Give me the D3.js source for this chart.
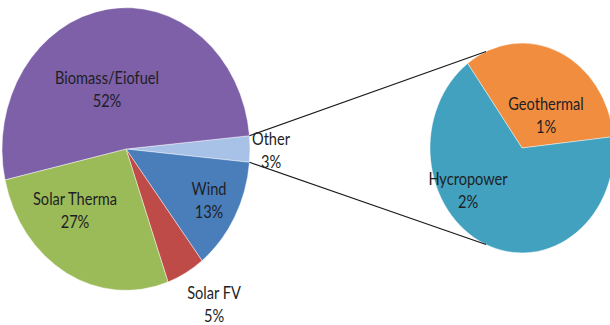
<!DOCTYPE html>
<html>
<head>
<meta charset="utf-8">
<script src="https://cdn.jsdelivr.net/npm/d3@7"></script>
<style>
  html, body { margin: 0; padding: 0; background: #fff; }
  svg { display: block; }
  text { font-family: Lato, "Open Sans", sans-serif; font-size: 14.6px; fill: #1e1e24; }
</style>
</head>
<body>
<svg id="chart" width="610" height="325"></svg>
<script>
// Energy sources, main pie (percent of total)
const mainCategories = ["Other", "Wind", "Solar FV", "Solar Therma", "Biomass/Eiofuel"];
const mainValues = [3, 13, 5, 27, 52];
const mainColors = ["#a8c1e6", "#4a7ebb", "#be4b48", "#9bbb59", "#7d60a8"];

// Breakdown of "Other" in the secondary pie
const subCategories = ["Geothermal", "Hycropower"];
const subValues = [1, 2];
const subColors = ["#f08d3e", "#41a1be"];

const svg = d3.select("#chart");
const SY = 1.14;                       // vertical stretch of both pies
const main = { cx: 126, cy: 149, r: 124 };
const sub = { cx: 522, cy: 148, r: 92 };

// Main pie: the split-off slice ("Other") is centred on the right-hand side
const total = d3.sum(mainValues);
const otherShare = mainValues[0] / total * 2 * Math.PI;
const mainPie = d3.pie().sort(null).value(d => d.value)
  .startAngle(Math.PI / 2 - otherShare / 2)
  .endAngle(Math.PI / 2 - otherShare / 2 + 2 * Math.PI);
const mainData = mainPie(mainValues.map((v, i) => ({ name: mainCategories[i], value: v, color: mainColors[i] })));

const arcMain = d3.arc().innerRadius(0).outerRadius(main.r);
svg.append("g")
  .attr("transform", `translate(${main.cx},${main.cy}) scale(1,${SY})`)
  .selectAll("path")
  .data(mainData)
  .join("path")
  .attr("d", arcMain)
  .attr("fill", d => d.data.color)
  .attr("stroke", "#ffffff")
  .attr("stroke-opacity", 0.6)
  .attr("stroke-width", 0.7);

// Secondary pie
const subPie = d3.pie().sort(null).value(d => d.value)
  .startAngle(-0.632)
  .endAngle(-0.632 + 2 * Math.PI);
const subData = subPie(subValues.map((v, i) => ({ name: subCategories[i], value: v, color: subColors[i] })));
const arcSub = d3.arc().innerRadius(0).outerRadius(sub.r);
svg.append("g")
  .attr("transform", `translate(${sub.cx},${sub.cy}) scale(1,${SY})`)
  .selectAll("path")
  .data(subData)
  .join("path")
  .attr("d", arcSub)
  .attr("fill", d => d.data.color)
  .attr("stroke", "#ffffff")
  .attr("stroke-opacity", 0.6)
  .attr("stroke-width", 0.7);

// Connector lines from the edges of the "Other" slice to the secondary pie
const otherSlice = mainData[0];
function pt(c, r, d3Angle) {
  const a = d3Angle - Math.PI / 2;
  return [c.cx + r * Math.cos(a), c.cy + r * SY * Math.sin(a)];
}
const joinAngle = 113 * Math.PI / 180;
const connectors = [
  [pt(main, main.r, otherSlice.startAngle), pt(sub, sub.r, Math.PI / 2 - joinAngle)],
  [pt(main, main.r, otherSlice.endAngle), pt(sub, sub.r, Math.PI / 2 + joinAngle)]
];
svg.append("g")
  .selectAll("line")
  .data(connectors)
  .join("line")
  .attr("x1", d => d[0][0]).attr("y1", d => d[0][1])
  .attr("x2", d => d[1][0]).attr("y2", d => d[1][1])
  .attr("stroke", "#1a1a1a")
  .attr("stroke-width", 1.2);

// Data labels: name on the first line, percentage below
const labelPos = {
  "Biomass/Eiofuel": [107, 84],
  "Solar Therma": [75, 205],
  "Wind": [209, 195],
  "Solar FV": [214, 299],
  "Other": [271, 145],
  "Geothermal": [546, 110],
  "Hycropower": [468, 185]
};
const labels = mainData.concat(subData).map(d => ({ name: d.data.name, value: d.data.value }));
const lg = svg.append("g").selectAll("g")
  .data(labels)
  .join("g")
  .attr("transform", d => `translate(${labelPos[d.name][0]},${labelPos[d.name][1]}) scale(1,${SY})`);
lg.append("text")
  .attr("text-anchor", "middle")
  .text(d => d.name);
lg.append("text")
  .attr("text-anchor", "middle")
  .attr("y", 20)
  .text(d => d3.format(".0f")(d.value) + "%");
</script>
</body>
</html>
